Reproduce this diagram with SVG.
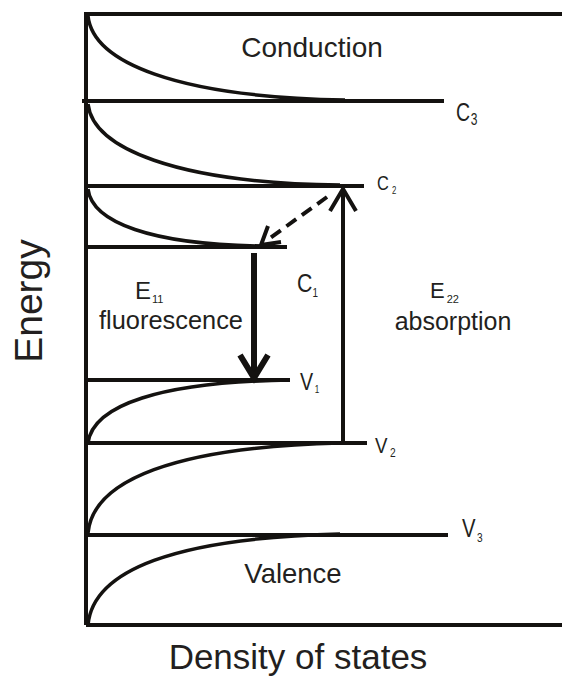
<svg xmlns="http://www.w3.org/2000/svg" width="562" height="678" viewBox="0 0 562 678">
<style>
.ln{stroke:#141210;stroke-width:4;fill:none}
.cv{stroke:#141210;stroke-width:3.5;fill:none}
.t{font-family:"Liberation Sans",Arial,sans-serif;fill:#231f20}
</style>
<rect width="562" height="678" fill="#fff"/>
<g id="frame">
<path class="ln" d="M86,625 V14 H562"/>
<path class="ln" d="M86,625 H562"/>
</g>
<g id="levels">
<line class="ln" x1="82" y1="101" x2="444" y2="101"/>
<line class="ln" x1="86" y1="186" x2="364" y2="186"/>
<line class="ln" x1="86" y1="247" x2="287" y2="247"/>
<line class="ln" x1="88" y1="380" x2="290" y2="380"/>
<line class="ln" x1="88" y1="443" x2="367" y2="443"/>
<line class="ln" x1="88" y1="535" x2="448" y2="535"/>
</g>
<g id="curves">
<path class="cv" d="M88,16 C93,62 175,97 345,100"/>
<path class="cv" d="M88,104 C93,148 175,183 340,185"/>
<path class="cv" d="M88,189 C92,222 150,245 265,246"/>
<path class="cv" d="M88,443 C93,405 160,382 290,380"/>
<path class="cv" d="M88,533 C93,480 175,447 340,443"/>
<path class="cv" d="M88,625 C93,570 175,538 340,534"/>
</g>
<g id="connectors">
<line class="ln" x1="343" y1="443" x2="343" y2="190"/>
<polyline class="ln" points="330,211 343,189 356,211"/>
<line stroke="#141210" stroke-width="6" x1="254" y1="253" x2="254" y2="376"/>
<polyline stroke="#141210" stroke-width="6" fill="none" points="240,355 254,378 268,355"/>
<line class="ln" x1="327" y1="197" x2="266" y2="241" stroke-dasharray="12,7"/>
<polyline class="ln" points="268,226 261,245 281,242"/>
</g>
<g id="texts">
<text class="t" x="312" y="57" font-size="28" text-anchor="middle">Conduction</text>
<text class="t" x="293" y="583" font-size="27.5" text-anchor="middle">Valence</text>
<text class="t" font-size="26" transform="translate(456,121) scale(0.75,1)">C<tspan font-size="16" dy="4" dx="1">3</tspan></text>
<text class="t" font-size="21" transform="translate(377,190) scale(0.78,1)">C<tspan font-size="10" dy="4" dx="4">2</tspan></text>
<text class="t" font-size="26" transform="translate(297,292) scale(0.82,1)">C<tspan font-size="12" dy="5">1</tspan></text>
<text class="t" font-size="24" transform="translate(300,390) scale(0.82,1)">V<tspan font-size="10" dy="3" dx="2">1</tspan></text>
<text class="t" font-size="22" transform="translate(375,453) scale(0.85,1)">V<tspan font-size="12" dy="4" dx="3">2</tspan></text>
<text class="t" font-size="26" transform="translate(462,537) scale(0.78,1)">V<tspan font-size="13" dy="5" dx="2">3</tspan></text>
<text class="t" x="135" y="299" font-size="24">E<tspan font-size="11" dy="4" dx="1">11</tspan></text>
<text class="t" x="171" y="329" font-size="25.4" text-anchor="middle">fluorescence</text>
<text class="t" x="430" y="298" font-size="22">E<tspan font-size="11" dy="5" dx="2">22</tspan></text>
<text class="t" x="453" y="330" font-size="25" text-anchor="middle">absorption</text>
<text class="t" font-size="39" text-anchor="middle" transform="translate(42,301) rotate(-90)">Energy</text>
<text class="t" x="298" y="669" font-size="35" text-anchor="middle">Density of states</text>
</g>
</svg>
